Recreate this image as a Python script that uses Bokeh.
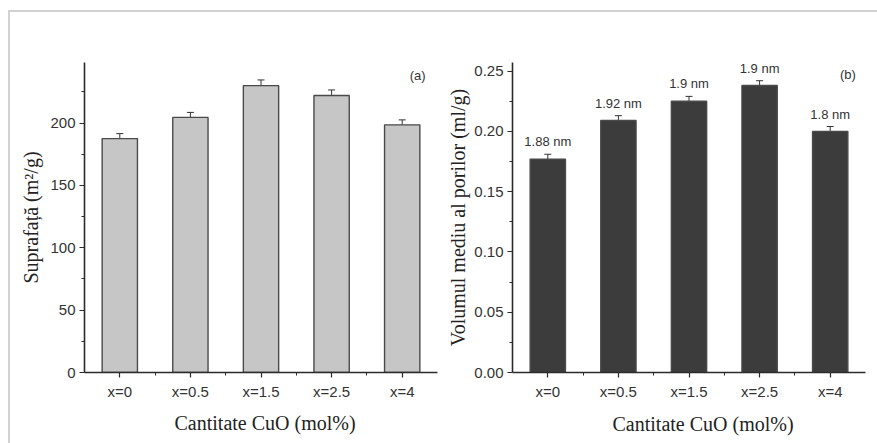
from bokeh.plotting import figure
from bokeh.layouts import row, column
from bokeh.models import (Range1d, FixedTicker, ColumnDataSource, Whisker, TeeHead,
                          Label, NumeralTickFormatter, Spacer, Title)
from bokeh.embed import file_html
from bokeh.resources import INLINE

categories = ["x=0", "x=0.5", "x=1.5", "x=2.5", "x=4"]
surface_area = [187.5, 204.5, 230.0, 222.0, 198.5]
surface_err = [4.0, 4.0, 4.5, 4.5, 4.0]
pore_volume = [0.177, 0.209, 0.225, 0.238, 0.200]
pore_err = [0.004, 0.004, 0.004, 0.004, 0.004]
pore_size_labels = ["1.88 nm", "1.92 nm", "1.9 nm", "1.9 nm", "1.8 nm"]
x_title = "Cantitate CuO (mol%)"

SANS = "Liberation Sans"
SERIF = "Liberation Serif"
AX = "#2b2b2b"


def style_axes(p):
    p.xgrid.visible = False
    p.ygrid.visible = False
    p.outline_line_color = None
    p.background_fill_color = "white"
    p.border_fill_color = "white"
    for ax in (p.xaxis[0], p.yaxis[0]):
        ax.axis_line_color = AX
        ax.axis_line_width = 1.6
        ax.major_tick_line_color = AX
        ax.minor_tick_line_color = AX
        ax.major_tick_line_width = 1.2
        ax.minor_tick_line_width = 1.0
        ax.major_tick_out = 5
        ax.major_tick_in = 0
        ax.minor_tick_out = 3
        ax.minor_tick_in = 0
        ax.major_label_text_font = SANS
        ax.major_label_text_font_size = "15px"
        ax.major_label_text_color = "#333333"


def make_panel(values, errs, ymax, yticks, yminor, fill, ylabel, width, borders,
               ylabel_standoff, title_offset, title_standoff, fmt=None):
    idx = list(range(len(categories)))
    p = figure(width=width, height=431, output_backend="svg", toolbar_location=None,
               x_range=Range1d(-0.5, len(categories) - 0.5), y_range=Range1d(0, ymax),
               min_border_left=borders[0], min_border_right=borders[1],
               min_border_top=borders[2], min_border_bottom=borders[3])
    src = ColumnDataSource(dict(x=idx, top=values,
                                upper=[v + e for v, e in zip(values, errs)],
                                lower=[v - e for v, e in zip(values, errs)]))
    p.vbar(x="x", top="top", width=0.5, source=src, fill_color=fill,
           line_color="#4a4a4a", line_width=1.4)
    w = Whisker(source=src, base="x", upper="upper", lower="lower",
                line_color="#333333", line_width=1,
                upper_head=TeeHead(size=7, line_color="#333333", line_width=1),
                lower_head=TeeHead(size=7, line_color="#333333", line_width=1))
    p.add_layout(w)
    style_axes(p)
    p.xaxis.ticker = FixedTicker(ticks=idx, minor_ticks=[i + 0.5 for i in idx[:-1]])
    p.xaxis.major_label_overrides = {i: c for i, c in zip(idx, categories)}
    p.xaxis.major_label_standoff = 5
    p.yaxis.ticker = FixedTicker(ticks=yticks, minor_ticks=yminor)
    p.yaxis.major_label_standoff = 4
    if fmt:
        p.yaxis.formatter = NumeralTickFormatter(format=fmt)
    p.yaxis.axis_label = ylabel
    p.yaxis.axis_label_text_font = SERIF
    p.yaxis.axis_label_text_font_style = "normal"
    p.yaxis.axis_label_text_font_size = "20px"
    p.yaxis.axis_label_text_color = "#222222"
    p.yaxis.axis_label_standoff = ylabel_standoff
    t = Title(text=x_title, align="left", offset=title_offset, standoff=title_standoff,
              text_font=SERIF, text_font_size="20px", text_font_style="normal",
              text_color="#222222")
    p.add_layout(t, "below")
    return p, src


p1, _ = make_panel(surface_area, surface_err, 248.5,
                   [0, 50, 100, 150, 200], [25, 75, 125, 175, 225],
                   "#c6c6c6", "Suprafață (m²/g)", 430, (74, 3, 50, 66), 5, 90, 14)
p1.add_layout(Label(x=4.22, y=238, text="(a)", text_font=SANS, text_font_size="13px",
                    text_color="#333333", text_align="center", text_baseline="middle"))

p2, src2 = make_panel(pore_volume, pore_err, 0.2571,
                      [0, 0.05, 0.10, 0.15, 0.20, 0.25],
                      [0.025, 0.075, 0.125, 0.175, 0.225],
                      "#3c3c3c", "Volumul mediu al porilor (ml/g)", 437, (72, 12, 45, 71),
                      2, 100, 17, "0.00")
src2.data["lab"] = pore_size_labels
p2.text(x="x", y="upper", text="lab", source=src2, text_font_size="13px",
        text_color="#333333", text_align="center", text_baseline="bottom", y_offset=-5,
        text_font={"value": SANS})
p2.add_layout(Label(x=4.25, y=0.247, text="(b)", text_font=SANS, text_font_size="13px",
                    text_color="#333333", text_align="center", text_baseline="middle"))

BORDER = "#d2d2d2"
layout = column(
    Spacer(width=877, height=10),
    row(
        Spacer(width=8, height=433),
        column(
            Spacer(width=869, height=2, styles={"background-color": BORDER}),
            row(Spacer(width=2, height=431, styles={"background-color": BORDER}), p1, p2),
        ),
    ),
)

open("out.html", "w").write(file_html(layout, INLINE))
